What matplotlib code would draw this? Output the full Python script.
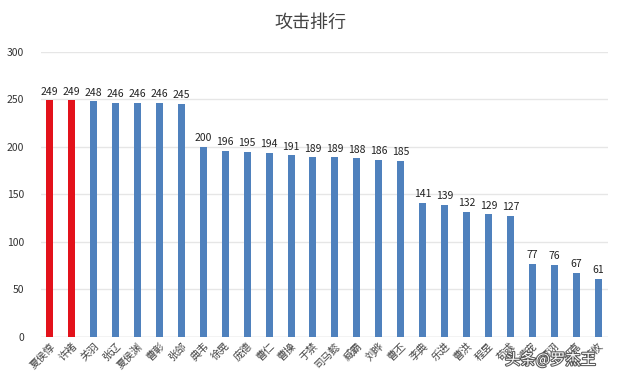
import matplotlib
matplotlib.use("Agg")
import matplotlib.pyplot as plt
import matplotlib.patheffects as pe

plt.rcParams['font.family'] = ['Noto Sans CJK SC', 'DejaVu Sans']

names = ['夏侯惇', '许褚', '关羽', '张辽', '夏侯渊', '曹彰', '张郃', '典韦',
         '徐晃', '庞德', '曹仁', '曹操', '于禁', '司马懿', '臧霸', '刘晔',
         '曹丕', '李典', '乐进', '曹洪', '程昱', '荀彧', '满宠', '贾诩',
         '郭嘉', '荀攸']
attack = [249, 249, 248, 246, 246, 246, 245, 200, 196, 195, 194, 191, 189,
          189, 188, 186, 185, 141, 139, 132, 129, 127, 77, 76, 67, 61]
highlight = 2  # first two bars in red

colors = ['#E3121B'] * highlight + ['#4F81BD'] * (len(attack) - highlight)

fig = plt.figure(figsize=(6.4, 3.79), dpi=100)
ax = fig.add_axes([0.064, 0.111, 0.886, 0.752])
x = list(range(len(attack)))
ax.bar(x, attack, width=0.32, color=colors, zorder=3)
for xi, v in zip(x, attack):
    ax.text(xi, v + 4, str(v), ha='center', va='bottom', fontsize=7.5, color='#222222')

ax.set_ylim(0, 300)
ax.set_xlim(-0.4, len(attack) - 0.55)
ax.set_yticks(range(0, 301, 50))
ax.yaxis.grid(True, color='#E6E6E6', linewidth=1, zorder=0)
ax.set_xticks(x)
ax.set_xticklabels(names, rotation=45, ha='right', rotation_mode='anchor',
                   fontsize=7.5, color='#444444')
ax.tick_params(axis='y', labelsize=7.5, colors='#333333', length=0, pad=12)
ax.tick_params(axis='x', length=0, pad=3)
for s in ax.spines.values():
    s.set_visible(False)
ax.axhline(0, color='#D9D9D9', linewidth=1, zorder=2)

fig.text(0.485, 0.94, '攻击排行', ha='center', va='center', fontsize=13, color='#444444')
fig.text(0.86, 0.05, '头条@罗杰王', ha='center', va='center', fontsize=11,
         color='white', path_effects=[pe.withStroke(linewidth=1.5, foreground='#555555')])

fig.savefig('out.png', dpi=100)
